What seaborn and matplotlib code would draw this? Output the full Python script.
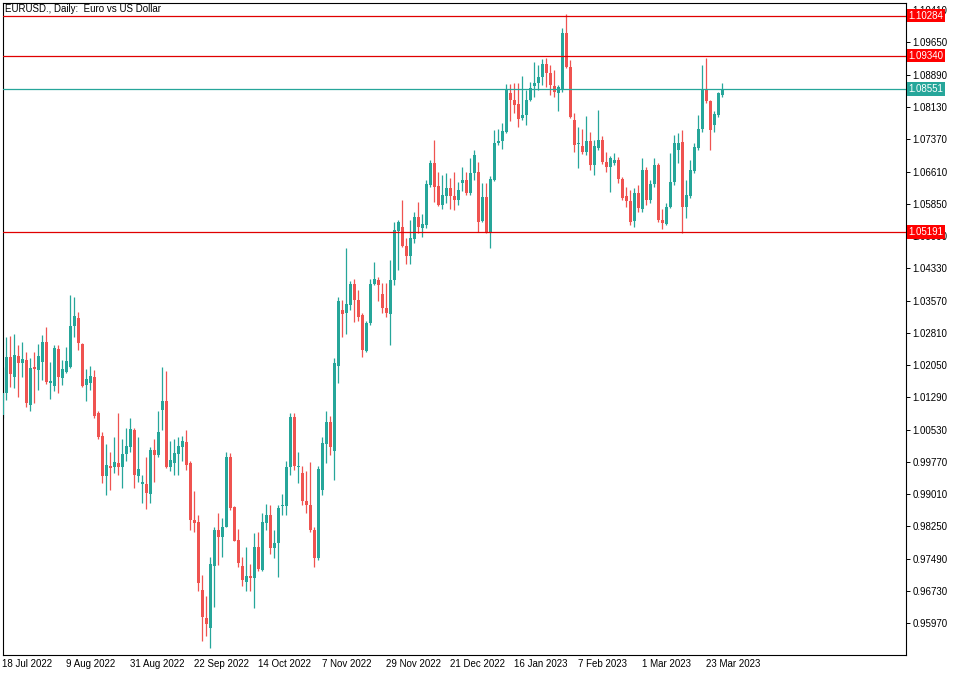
import numpy as np
import pandas as pd
import seaborn as sns
import matplotlib
matplotlib.use("Agg")
import matplotlib.pyplot as plt
import matplotlib.transforms as mtransforms

# EURUSD daily bars, 18 Jul 2022 .. 29 Mar 2023 (broker calendar, no 26 Dec / 2 Jan)
holidays = ["2022-12-26", "2023-01-02"]
dates = pd.bdate_range("2022-07-18", "2023-03-29").drop(pd.to_datetime(holidays))

opens = [
    1.0087, 1.0139, 1.0223, 1.0177, 1.0226, 1.0209, 1.0216, 1.0111, 1.0200, 1.0194,
    1.0213, 1.0259, 1.0162, 1.0156, 1.0242, 1.0174, 1.0188, 1.0200, 1.0296, 1.0315,
    1.0255, 1.0158, 1.0162, 1.0177, 1.0092, 1.0038, 0.9943, 0.9967, 0.9964, 0.9974,
    0.9966, 0.9995, 1.0011, 1.0052, 0.9943, 0.9925, 0.9924, 0.9901, 1.0005, 0.9993,
    1.0099, 1.0120, 0.9966, 0.9974, 0.9995, 1.0011, 1.0025, 0.9974, 0.9840, 0.9836,
    0.9675, 0.9610, 0.9585, 0.9732, 0.9816, 0.9801, 0.9824, 0.9988, 0.9870, 0.9793,
    0.9732, 0.9695, 0.9708, 0.9703, 0.9776, 0.9722, 0.9834, 0.9851, 0.9774, 0.9786,
    0.9872, 0.9873, 0.9964, 1.0082, 0.9964, 0.9950, 0.9885, 0.9876, 0.9817, 0.9751,
    0.9910, 1.0018, 1.0072, 1.0003, 1.0202, 1.0335, 1.0327, 1.0346, 1.0395, 1.0358,
    1.0323, 1.0239, 1.0304, 1.0396, 1.0405, 1.0372, 1.0339, 1.0325, 1.0405, 1.0522,
    1.0531, 1.0486, 1.0462, 1.0501, 1.0553, 1.0527, 1.0535, 1.0629, 1.0682, 1.0627,
    1.0582, 1.0604, 1.0622, 1.0603, 1.0594, 1.0633, 1.0640, 1.0610, 1.0657, 1.0661,
    1.0545, 1.0602, 1.0519, 1.0641, 1.0728, 1.0733, 1.0755, 1.0847, 1.0829, 1.0820,
    1.0786, 1.0794, 1.0829, 1.0862, 1.0869, 1.0884, 1.0914, 1.0892, 1.0862, 1.0847,
    1.0853, 1.0988, 1.0907, 1.0782, 1.0727, 1.0721, 1.0708, 1.0732, 1.0676, 1.0716,
    1.0736, 1.0684, 1.0671, 1.0682, 1.0687, 1.0643, 1.0603, 1.0592, 1.0545, 1.0610,
    1.0572, 1.0665, 1.0594, 1.0632, 1.0676, 1.0547, 1.0537, 1.0577, 1.0637, 1.0712,
    1.0731, 1.0577, 1.0603, 1.0663, 1.0716, 1.0761, 1.0855, 1.0826, 1.0771, 1.0794,
    1.0841,
]
highs = [
    1.0201, 1.0271, 1.0274, 1.0278, 1.0253, 1.0260, 1.0237, 1.0221, 1.0237, 1.0255,
    1.0276, 1.0294, 1.0213, 1.0252, 1.0252, 1.0217, 1.0248, 1.0370, 1.0366, 1.0329,
    1.0256, 1.0195, 1.0202, 1.0193, 1.0096, 1.0048, 1.0019, 1.0001, 1.0036, 1.0092,
    1.0031, 1.0056, 1.0081, 1.0056, 1.0035, 0.9946, 0.9989, 1.0011, 1.0030, 1.0096,
    1.0200, 1.0190, 1.0027, 1.0030, 1.0036, 1.0038, 1.0052, 0.9978, 0.9908, 0.9852,
    0.9711, 0.9660, 0.9753, 0.9824, 0.9856, 0.9846, 1.0001, 0.9997, 0.9872, 0.9818,
    0.9754, 0.9777, 0.9737, 0.9809, 0.9813, 0.9856, 0.9878, 0.9876, 0.9817, 0.9876,
    0.9901, 0.9980, 1.0092, 1.0092, 1.0001, 0.9967, 0.9956, 0.9976, 0.9824, 0.9967,
    1.0036, 1.0096, 1.0085, 1.0222, 1.0365, 1.0358, 1.0480, 1.0402, 1.0408, 1.0382,
    1.0327, 1.0308, 1.0408, 1.0449, 1.0413, 1.0399, 1.0398, 1.0453, 1.0543, 1.0547,
    1.0594, 1.0504, 1.0547, 1.0566, 1.0590, 1.0562, 1.0640, 1.0688, 1.0735, 1.0661,
    1.0652, 1.0657, 1.0645, 1.0661, 1.0637, 1.0671, 1.0661, 1.0692, 1.0712, 1.0684,
    1.0633, 1.0633, 1.0650, 1.0759, 1.0761, 1.0775, 1.0867, 1.0867, 1.0870, 1.0870,
    1.0886, 1.0853, 1.0873, 1.0920, 1.0912, 1.0925, 1.0928, 1.0912, 1.0900, 1.0865,
    1.0998, 1.1032, 1.0924, 1.0798, 1.0767, 1.0761, 1.0791, 1.0753, 1.0736, 1.0805,
    1.0744, 1.0708, 1.0698, 1.0704, 1.0696, 1.0647, 1.0625, 1.0618, 1.0622, 1.0630,
    1.0692, 1.0671, 1.0640, 1.0692, 1.0680, 1.0572, 1.0586, 1.0705, 1.0747, 1.0751,
    1.0759, 1.0640, 1.0688, 1.0728, 1.0794, 1.0912, 1.0928, 1.0830, 1.0804, 1.0849,
    1.0870,
]
lows = [
    1.0081, 1.0122, 1.0154, 1.0151, 1.0131, 1.0178, 1.0107, 1.0096, 1.0115, 1.0146,
    1.0170, 1.0161, 1.0124, 1.0144, 1.0139, 1.0158, 1.0186, 1.0198, 1.0272, 1.0241,
    1.0154, 1.0121, 1.0146, 1.0080, 1.0031, 0.9927, 0.9899, 0.9911, 0.9950, 0.9946,
    0.9915, 0.9978, 1.0001, 0.9915, 0.9930, 0.9879, 0.9866, 0.9879, 0.9930, 0.9989,
    1.0052, 0.9963, 0.9956, 0.9946, 0.9946, 0.9978, 0.9958, 0.9817, 0.9813, 0.9672,
    0.9554, 0.9568, 0.9538, 0.9636, 0.9734, 0.9754, 0.9823, 0.9864, 0.9790, 0.9730,
    0.9685, 0.9672, 0.9672, 0.9632, 0.9720, 0.9720, 0.9816, 0.9759, 0.9750, 0.9707,
    0.9852, 0.9852, 0.9946, 0.9958, 0.9928, 0.9876, 0.9856, 0.9813, 0.9730, 0.9745,
    0.9900, 0.9974, 0.9993, 0.9934, 1.0164, 1.0271, 1.0278, 1.0335, 1.0306, 1.0308,
    1.0224, 1.0237, 1.0300, 1.0394, 1.0355, 1.0327, 1.0319, 1.0253, 1.0394, 1.0429,
    1.0483, 1.0444, 1.0443, 1.0493, 1.0516, 1.0507, 1.0528, 1.0624, 1.0590, 1.0580,
    1.0573, 1.0586, 1.0573, 1.0570, 1.0582, 1.0614, 1.0606, 1.0606, 1.0641, 1.0519,
    1.0543, 1.0516, 1.0480, 1.0638, 1.0724, 1.0715, 1.0751, 1.0780, 1.0798, 1.0767,
    1.0782, 1.0770, 1.0826, 1.0837, 1.0853, 1.0865, 1.0861, 1.0841, 1.0837, 1.0803,
    1.0849, 1.0905, 1.0786, 1.0708, 1.0669, 1.0703, 1.0700, 1.0665, 1.0654, 1.0712,
    1.0679, 1.0661, 1.0612, 1.0676, 1.0633, 1.0594, 1.0578, 1.0535, 1.0531, 1.0566,
    1.0566, 1.0582, 1.0586, 1.0625, 1.0543, 1.0526, 1.0535, 1.0575, 1.0630, 1.0680,
    1.0517, 1.0551, 1.0598, 1.0658, 1.0712, 1.0755, 1.0822, 1.0712, 1.0755, 1.0790,
    1.0837,
]
closes = [
    1.0140, 1.0225, 1.0183, 1.0229, 1.0211, 1.0219, 1.0115, 1.0198, 1.0196, 1.0226,
    1.0259, 1.0166, 1.0168, 1.0245, 1.0176, 1.0196, 1.0215, 1.0297, 1.0321, 1.0256,
    1.0156, 1.0172, 1.0179, 1.0085, 1.0036, 0.9943, 0.9969, 0.9963, 0.9976, 0.9966,
    0.9995, 1.0014, 1.0054, 0.9945, 0.9960, 0.9929, 0.9904, 1.0006, 0.9993, 1.0047,
    1.0121, 0.9966, 0.9981, 0.9998, 1.0014, 1.0027, 0.9970, 0.9840, 0.9834, 0.9691,
    0.9611, 0.9594, 0.9736, 0.9816, 0.9801, 0.9824, 0.9988, 0.9868, 0.9791, 0.9740,
    0.9699, 0.9708, 0.9704, 0.9776, 0.9724, 0.9836, 0.9852, 0.9774, 0.9786, 0.9868,
    0.9876, 0.9966, 1.0082, 0.9967, 0.9967, 0.9884, 0.9876, 0.9817, 0.9750, 0.9961,
    1.0022, 1.0072, 1.0011, 1.0209, 1.0355, 1.0325, 1.0349, 1.0395, 1.0358, 1.0318,
    1.0241, 1.0305, 1.0396, 1.0409, 1.0394, 1.0339, 1.0327, 1.0405, 1.0523, 1.0543,
    1.0486, 1.0462, 1.0504, 1.0553, 1.0531, 1.0537, 1.0632, 1.0682, 1.0625, 1.0582,
    1.0606, 1.0622, 1.0603, 1.0594, 1.0618, 1.0640, 1.0610, 1.0658, 1.0700, 1.0543,
    1.0602, 1.0519, 1.0643, 1.0728, 1.0733, 1.0757, 1.0853, 1.0829, 1.0818, 1.0784,
    1.0794, 1.0829, 1.0857, 1.0869, 1.0884, 1.0914, 1.0892, 1.0865, 1.0849, 1.0861,
    1.0988, 1.0907, 1.0790, 1.0724, 1.0728, 1.0708, 1.0734, 1.0676, 1.0720, 1.0736,
    1.0684, 1.0671, 1.0692, 1.0687, 1.0643, 1.0598, 1.0592, 1.0543, 1.0610, 1.0575,
    1.0665, 1.0594, 1.0632, 1.0676, 1.0547, 1.0539, 1.0578, 1.0637, 1.0728, 1.0729,
    1.0577, 1.0606, 1.0665, 1.0718, 1.0761, 1.0855, 1.0826, 1.0759, 1.0797, 1.0845,
    1.0855,
]

# levels drawn on the chart
levels = [1.10284, 1.09340, 1.05191]
bid = 1.08551
price_ticks = [1.10410, 1.09650, 1.08890, 1.08130, 1.07370, 1.06610, 1.05850, 1.05090,
               1.04330, 1.03570, 1.02810, 1.02050, 1.01290, 1.00530, 0.99770, 0.99010,
               0.98250, 0.97490, 0.96730, 0.95970]

bull = "#26a69a"
bear = "#ef5350"
lvl_color = "#e00000"

sns.set_style("white")
plt.rcParams["font.family"] = ["Liberation Sans", "DejaVu Sans"]

df = pd.DataFrame({"date": dates, "open": opens, "high": highs, "low": lows, "close": closes})
df["x"] = np.arange(len(df))
df["up"] = df["close"] >= df["open"]
df["color"] = np.where(df["up"], bull, bear)

fig = plt.figure(figsize=(9.6, 6.75), dpi=100)
ax = fig.add_axes([2.5 / 960, 20 / 675, (906 - 2.5) / 960, (655 - 2.5) / 675])

px = (1.10592 - 0.95221) / 652.5  # one pixel in price units
body = np.maximum((df["close"] - df["open"]).abs(), px)
bottom = np.minimum(df["open"], df["close"])

ax.vlines(df["x"], df["low"], df["high"], colors=df["color"], linewidth=0.9, zorder=2)
ax.bar(df["x"], body, bottom=bottom, width=0.75, color=df["color"], linewidth=0, zorder=3)

for lv in levels:
    ax.axhline(lv, color=lvl_color, linewidth=0.9, zorder=4)
ax.axhline(bid, color=bull, linewidth=0.9, zorder=4)

ax.set_xlim(0, 225.9)
ax.set_ylim(0.95221, 1.10592)

# right price scale
ax.yaxis.tick_right()
ax.set_yticks(price_ticks)
ax.set_yticklabels([f"{t:.5f}" for t in price_ticks])
ax.tick_params(axis="y", direction="out", length=3, width=0.7, pad=1.5,
               labelsize=7, colors="black")

# date scale
xt = np.arange(0, len(df), 16)
ax.set_xticks(xt)
ax.set_xticklabels([f"{d.day} {d:%b %Y}" for d in df["date"].iloc[xt]])
ax.tick_params(axis="x", direction="in", length=2, width=0.6, pad=3,
               labelsize=7, colors="black")
for lab in ax.get_xticklabels():
    lab.set_ha("left")

for sp in ax.spines.values():
    sp.set_color("black")
    sp.set_linewidth(0.8)

# price tags on the scale
tr = mtransforms.blended_transform_factory(ax.transAxes, ax.transData)
for lv in levels:
    ax.text(1.003, lv, f"{lv:.5f}", transform=tr, ha="left", va="center",
            color="white", fontsize=7, clip_on=False, zorder=10,
            bbox=dict(boxstyle="square,pad=0.18", fc="#ff0000", ec="none"))
ax.text(1.003, bid, f"{bid:.5f}", transform=tr, ha="left", va="center",
        color="white", fontsize=7, clip_on=False, zorder=10,
        bbox=dict(boxstyle="square,pad=0.18", fc=bull, ec="none"))

fig.text(5 / 960, 1 - 9 / 675, "EURUSD., Daily:  Euro vs US Dollar",
         fontsize=7, va="center", ha="left", color="black")

fig.savefig("out.png", dpi=100, facecolor="white")
